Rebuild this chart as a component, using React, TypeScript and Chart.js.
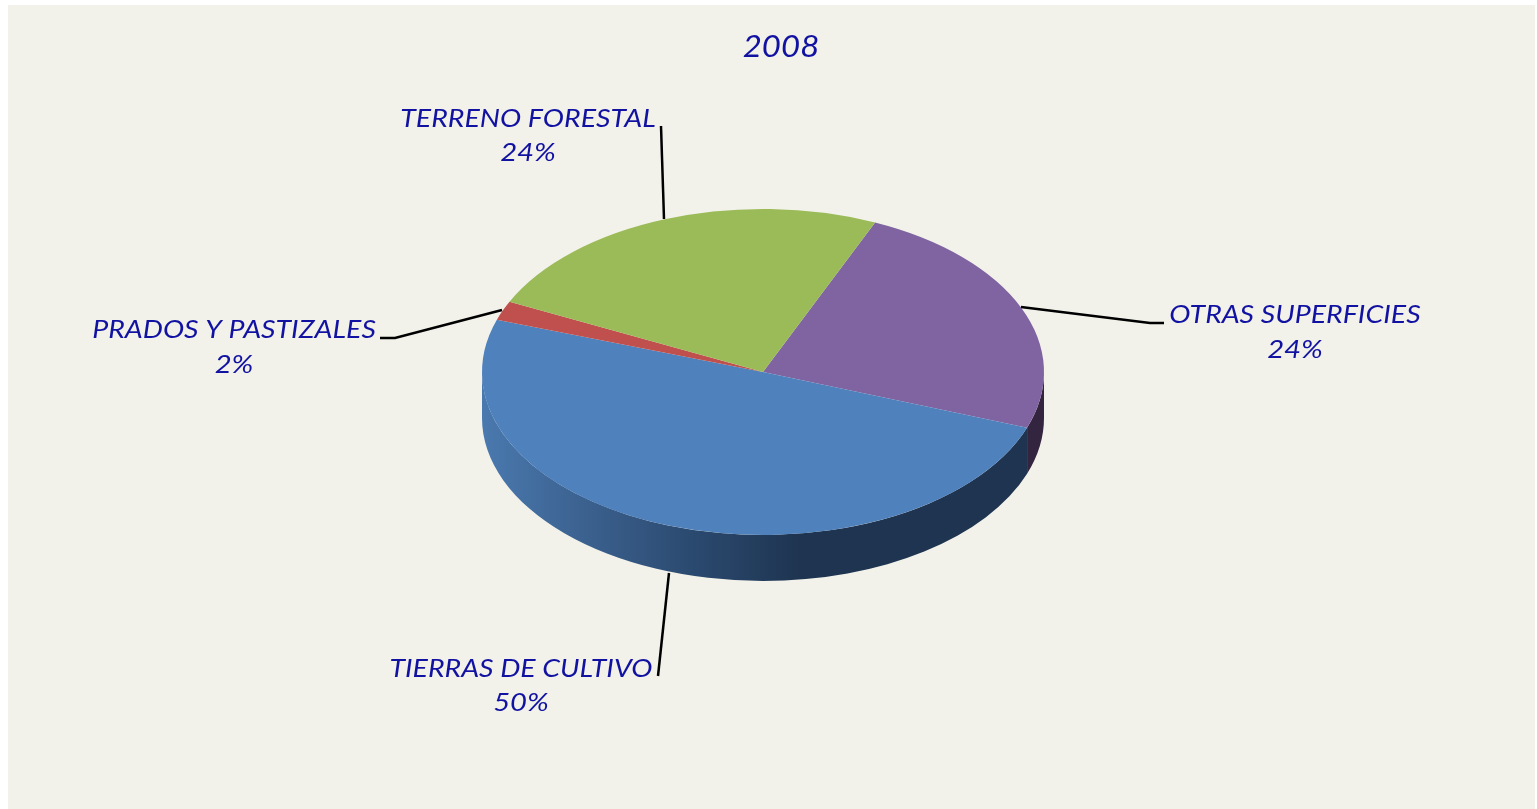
import React, { useEffect, useRef } from "react";
import { Chart, registerables } from "chart.js";

Chart.register(...registerables);

const chartTitle = "2008";
const categories = ["OTRAS SUPERFICIES", "TIERRAS DE CULTIVO", "PRADOS Y PASTIZALES", "TERRENO FORESTAL"];
const shares = [24.0, 49.6, 1.9, 24.4];
const sliceColors = ["#8064A2", "#4F81BD", "#C0504D", "#9BBB59"];

const FONT = "Lato, Carlito, sans-serif";
const TEXT_COLOR = "#1212A2";
const CX = 763;
const CY = 372;
const RX = 281;
const RY = 163;
const DEPTH = 46;
const SQUASH = RY / RX;
const PAD_TOP = 100;
const LAYOUT_CY = PAD_TOP + RX;

const labelPlaces = [
  { x: 1295, y: 323, py: 358 },
  { x: 521, y: 677, py: 711 },
  { x: 234, y: 338, py: 373 },
  { x: 528, y: 127, py: 161 },
];
const leaders = [
  [[1021, 307], [1150, 323], [1164, 323]],
  [[669, 573], [658, 676]],
  [[502, 310], [395, 338], [380, 338]],
  [[664, 219], [661, 126]],
];

const pie3d = {
  id: "pie3d",
  beforeDatasetsDraw(chart: any) {
    const ctx = chart.ctx;
    const arcs = chart.getDatasetMeta(0).data;
    const grad = ctx.createLinearGradient(CX - RX, 0, CX + 40, 0);
    grad.addColorStop(0, "#4A79AF");
    grad.addColorStop(0.35, "#3A5F8C");
    grad.addColorStop(0.65, "#2B4A70");
    grad.addColorStop(1, "#1E3450");
    const wallFill = ["#33253F", grad, "#7A302E", "#5F7337"];
    arcs.forEach((arc: any, i: number) => {
      [0, Math.PI * 2].forEach((k) => {
        const a0 = Math.max(arc.startAngle, k);
        const a1 = Math.min(arc.endAngle, k + Math.PI);
        if (a1 <= a0) return;
        ctx.save();
        ctx.beginPath();
        ctx.ellipse(CX, CY, RX, RY, 0, a0, a1, false);
        ctx.lineTo(CX + RX * Math.cos(a1), CY + RY * Math.sin(a1) + DEPTH);
        ctx.ellipse(CX, CY + DEPTH, RX, RY, 0, a1, a0, true);
        ctx.closePath();
        ctx.fillStyle = wallFill[i];
        ctx.fill();
        ctx.restore();
      });
    });
    ctx.save();
    ctx.translate(0, CY);
    ctx.scale(1, SQUASH);
    ctx.translate(0, -LAYOUT_CY);
  },
  afterDatasetsDraw(chart: any) {
    const ctx = chart.ctx;
    ctx.restore();

    ctx.save();
    ctx.strokeStyle = "#000000";
    ctx.lineWidth = 2.5;
    leaders.forEach((pts) => {
      ctx.beginPath();
      pts.forEach((p, i) => (i === 0 ? ctx.moveTo(p[0], p[1]) : ctx.lineTo(p[0], p[1])));
      ctx.stroke();
    });
    ctx.fillStyle = TEXT_COLOR;
    ctx.textAlign = "center";
    ctx.textBaseline = "alphabetic";
    const stretched = (text: string, x: number, y: number, sx: number) => {
      ctx.save();
      ctx.translate(x, y);
      ctx.scale(sx, 1);
      ctx.fillText(text, 0, 0);
      ctx.restore();
    };
    ctx.font = `italic 400 30px ${FONT}`;
    stretched(chartTitle, 781, 57, 1.1);
    ctx.font = `italic 400 25px ${FONT}`;
    categories.forEach((name, i) => {
      const p = labelPlaces[i];
      stretched(name, p.x, p.y, 1.14);
      stretched(`${Math.round(shares[i])}%`, p.x, p.py, 1.17);
    });
    ctx.restore();
  },
};

export default function App() {
  const ref = useRef<HTMLCanvasElement | null>(null);
  useEffect(() => {
    const chart = new Chart(ref.current as HTMLCanvasElement, {
      type: "pie",
      data: {
        labels: categories,
        datasets: [
          {
            data: shares,
            backgroundColor: sliceColors,
            borderWidth: 0,
            clip: false,
          } as any,
        ],
      },
      options: {
        responsive: false,
        animation: false,
        rotation: 23.5,
        layout: {
          padding: { left: CX - RX, right: 1537 - CX - RX, top: PAD_TOP, bottom: 809 - PAD_TOP - 2 * RX },
        },
        plugins: { legend: { display: false }, tooltip: { enabled: false }, title: { display: false } },
      },
      plugins: [pie3d],
    });
    return () => chart.destroy();
  }, []);
  return (
    <div style={{ position: "absolute", left: 0, top: 0, width: 1537, height: 809, background: "#FFFFFF", overflow: "hidden" }}>
      <div style={{ position: "absolute", left: 8, top: 5, width: 1527, height: 804, background: "#F2F2EA" }} />
      <canvas ref={ref} width={1537} height={809} style={{ position: "absolute", left: 0, top: 0, display: "block", filter: "blur(0.5px)" }} />
    </div>
  );
}
